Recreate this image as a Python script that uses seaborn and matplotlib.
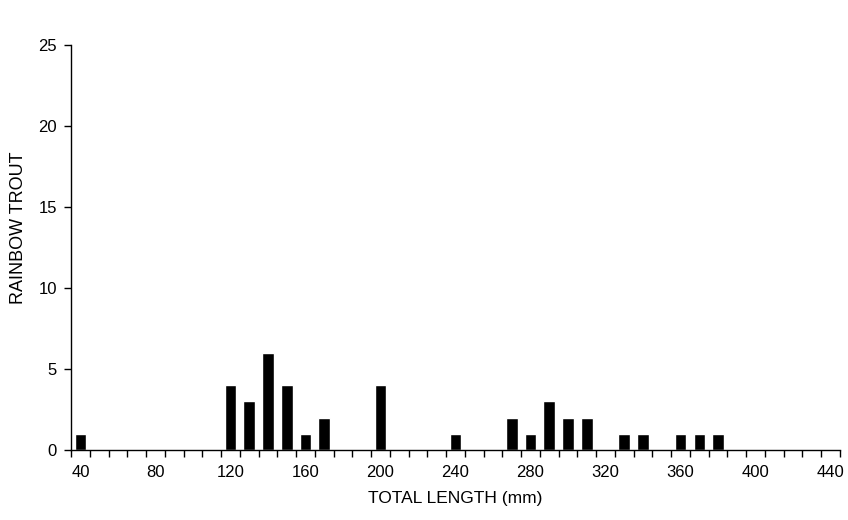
import pandas as pd
import matplotlib.pyplot as plt
import seaborn as sns

# length classes (mm) with fish counts
length_classes = list(range(40, 450, 10))
counted_lengths = [40, 120, 130, 140, 150, 160, 170, 200, 240, 270, 280, 290, 300, 310, 330, 340, 360, 370, 380]
counted_fish = [1, 4, 3, 6, 4, 1, 2, 4, 1, 2, 1, 3, 2, 2, 1, 1, 1, 1, 1]
y_ticks = [0, 5, 10, 15, 20, 25]

lookup = dict(zip(counted_lengths, counted_fish))
df = pd.DataFrame({"length": [str(v) for v in length_classes],
                   "count": [lookup.get(v, 0) for v in length_classes]})

sns.set_theme(style="white")
plt.rcParams['font.family'] = ['Liberation Sans', 'DejaVu Sans']
plt.rcParams['text.color'] = 'black'
plt.rcParams['axes.labelcolor'] = 'black'
plt.rcParams['xtick.color'] = 'black'
plt.rcParams['ytick.color'] = 'black'

fig = plt.figure(figsize=(8.48, 5.2), dpi=100)
ax = fig.add_axes([71 / 848, 1 - 450 / 520, 769 / 848, 405 / 520])
sns.barplot(data=df, x="length", y="count", color="black", width=0.62,
            saturation=1, ax=ax, order=df["length"])

# labels every 40 mm, tick marks between classes
n = len(length_classes)
ax.set_xticks(range(0, n, 4))
ax.set_xticklabels([str(v) for v in length_classes[::4]], fontsize=12)
ax.set_xticks([i - 0.5 for i in range(n + 1)], minor=True)
ax.tick_params(axis="x", which="major", bottom=True, length=0, pad=11)
ax.tick_params(axis="x", which="minor", bottom=True, length=5, width=1,
               color="black", direction="out")
ax.set_xlim(-0.5, n - 0.5)

ax.set_ylim(0, 25)
ax.set_yticks(y_ticks)
ax.tick_params(axis="y", left=True, length=5, width=1, color="black",
               direction="out", labelsize=12, pad=5)

for side in ["top", "right"]:
    ax.spines[side].set_visible(False)
for side in ["left", "bottom"]:
    ax.spines[side].set_color("black")
    ax.spines[side].set_linewidth(1)

ax.set_xlabel("TOTAL LENGTH (mm)", fontsize=12.5, labelpad=8)
ax.set_ylabel("RAINBOW TROUT", fontsize=13)
ax.yaxis.set_label_coords((27 - 71) / 769, (450 - 228) / 405)

plt.savefig("out.png", dpi=100)
